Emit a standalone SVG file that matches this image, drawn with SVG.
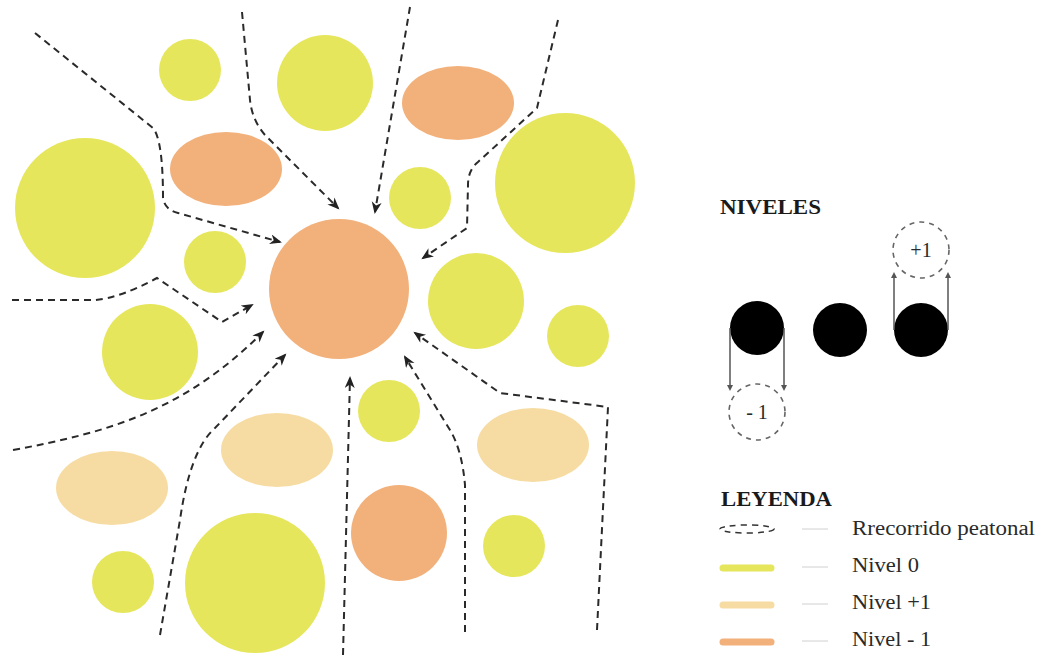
<svg xmlns="http://www.w3.org/2000/svg" width="1044" height="657" viewBox="0 0 1044 657">
<defs>
<marker id="ah" markerWidth="14" markerHeight="12" refX="10" refY="5" orient="auto" markerUnits="userSpaceOnUse">
<path d="M0,0 L12,5 L0,10 L3.5,5 z" fill="#222"/>
</marker>
<marker id="sm" markerWidth="6" markerHeight="6" refX="3" refY="3" orient="auto" markerUnits="userSpaceOnUse">
<path d="M0,0 L6,3 L0,6 z" fill="#555"/>
</marker>
</defs>
<style>
.y{fill:#E6E65C}
.o{fill:#F2B07A}
.l{fill:#F6DCA2}
.p{fill:none;stroke:#2a2a2a;stroke-width:2;stroke-dasharray:7 5;marker-end:url(#ah)}
.k{fill:#000}
.ln{stroke:#555;stroke-width:1.5;marker-end:url(#sm)}
.dc{fill:none;stroke:#666;stroke-width:1.6;stroke-dasharray:5 5}
.t{font-family:"Liberation Serif",serif;fill:#2a2a2a;font-size:20px}
.h{font-family:"Liberation Serif",serif;fill:#1a1a1a;font-size:20px;font-weight:bold}
.bar{stroke-width:7;stroke-linecap:round}
.gl{stroke:#d0d0d0;stroke-width:1}
</style>
<rect width="1044" height="657" fill="#fff"/>
<g id="plazas">
<circle id="c1" class="y" cx="190" cy="70" r="31"/>
<circle id="c2" class="y" cx="325" cy="83" r="48"/>
<ellipse id="c3" class="o" cx="458" cy="103" rx="56" ry="37"/>
<ellipse id="c4" class="o" cx="226" cy="169" rx="56" ry="37"/>
<circle id="c5" class="y" cx="85" cy="208" r="70"/>
<circle id="c6" class="y" cx="420" cy="198" r="31"/>
<circle id="c7" class="y" cx="565" cy="183" r="70"/>
<circle id="c8" class="y" cx="215" cy="262" r="31"/>
<circle id="c9" class="o" cx="339" cy="289" r="70"/>
<circle id="c10" class="y" cx="476" cy="301" r="48"/>
<circle id="c11" class="y" cx="578" cy="336" r="31"/>
<circle id="c12" class="y" cx="150" cy="352" r="48"/>
<circle id="c13" class="y" cx="389" cy="411" r="31"/>
<ellipse id="c14" class="l" cx="277" cy="450" rx="56" ry="37"/>
<ellipse id="c15" class="l" cx="533" cy="445" rx="56" ry="37"/>
<ellipse id="c16" class="l" cx="112" cy="488" rx="56" ry="37"/>
<circle id="c17" class="o" cx="399" cy="533" r="48"/>
<circle id="c18" class="y" cx="514" cy="546" r="31"/>
<circle id="c19" class="y" cx="123" cy="582" r="31"/>
<circle id="c20" class="y" cx="255" cy="583" r="70"/>
</g>
<g id="recorridos">
<path class="p" d="M35,33 L153,128 Q163,140 163,198 Q165,210 178,213 L280,242"/>
<path class="p" d="M242,12 L250,100 Q252,120 265,135 L338,208"/>
<path class="p" d="M410,7 L375,212"/>
<path class="p" d="M558,20 L537,108 L478,162 Q468,170 468,185 L467,228 L423,258"/>
<path class="p" d="M12,300 L95,300 Q120,298 157,278 L222,322 L252,305"/>
<path class="p" d="M13,450 C110,432 185,410 263,332"/>
<path class="p" d="M160,635 L180,520 Q190,450 215,428 L285,355"/>
<path class="p" d="M343,655 L350,378"/>
<path class="p" d="M465,632 L465,485 Q462,450 450,430 L405,357"/>
<path class="p" d="M597,630 L608,407 L500,393 L415,333"/>
</g>
<g id="niveles">
<text class="h" x="720" y="214" textLength="101" lengthAdjust="spacingAndGlyphs">NIVELES</text>
<circle id="n1" class="k" cx="757" cy="328" r="27"/>
<circle id="n2" class="k" cx="840" cy="330" r="27"/>
<circle id="n3" class="k" cx="921" cy="330" r="27"/>
<line class="ln" x1="730" y1="328" x2="730" y2="388"/>
<line class="ln" x1="784" y1="328" x2="784" y2="388"/>
<line class="ln" x1="894" y1="330" x2="894" y2="275"/>
<line class="ln" x1="948" y1="330" x2="948" y2="275"/>
<circle class="dc" cx="757" cy="412" r="28"/>
<text class="t" x="757" y="419" text-anchor="middle">- 1</text>
<circle class="dc" cx="921" cy="250" r="28"/>
<text class="t" x="921" y="257" text-anchor="middle">+1</text>
</g>
<g id="leyenda">
<text class="h" x="721" y="506" textLength="111" lengthAdjust="spacingAndGlyphs">LEYENDA</text>
<ellipse cx="747" cy="529" rx="27" ry="4" fill="none" stroke="#333" stroke-width="1.5" stroke-dasharray="6 5"/>
<line class="gl" x1="802" y1="529" x2="828" y2="529"/>
<text class="t" x="852" y="535" textLength="183" lengthAdjust="spacingAndGlyphs">Rrecorrido peatonal</text>
<line class="bar" x1="723" y1="568" x2="771" y2="568" stroke="#E6E65C"/>
<line class="gl" x1="802" y1="567" x2="828" y2="567"/>
<text class="t" x="852" y="572" textLength="67" lengthAdjust="spacingAndGlyphs">Nivel 0</text>
<line class="bar" x1="723" y1="605" x2="771" y2="605" stroke="#F6DCA2"/>
<line class="gl" x1="802" y1="604" x2="828" y2="604"/>
<text class="t" x="852" y="609" textLength="79" lengthAdjust="spacingAndGlyphs">Nivel +1</text>
<line class="bar" x1="723" y1="642" x2="771" y2="642" stroke="#F2B07A"/>
<line class="gl" x1="802" y1="641" x2="828" y2="641"/>
<text class="t" x="852" y="646" textLength="79" lengthAdjust="spacingAndGlyphs">Nivel - 1</text>
</g>
</svg>
